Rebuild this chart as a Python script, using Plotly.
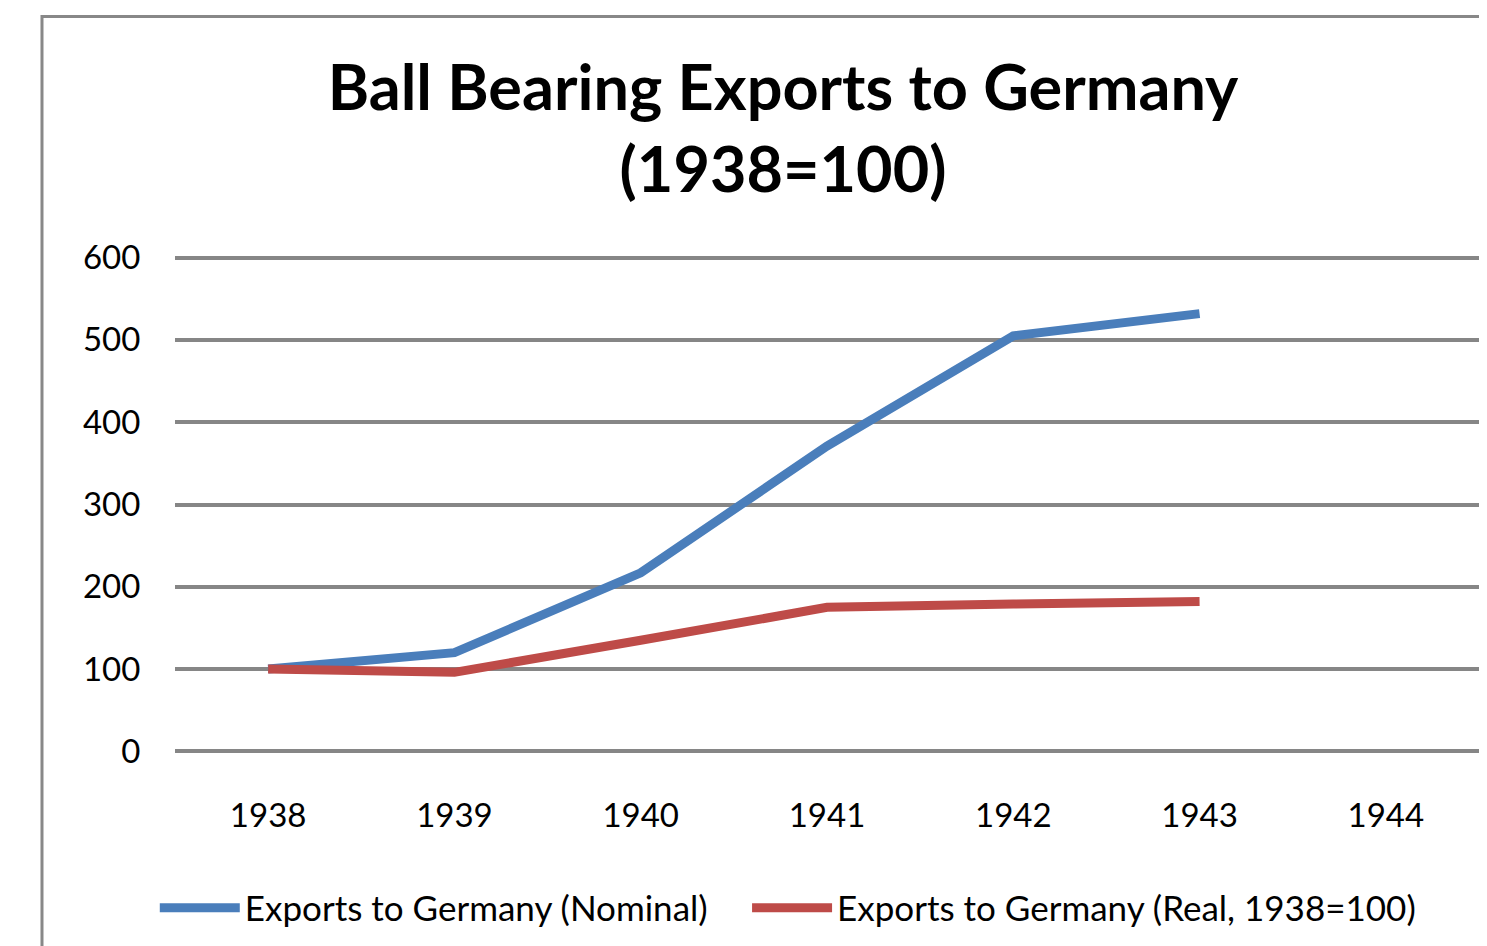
import plotly.graph_objects as go

# data (index, 1938 = 100); 1944 is an empty category
years = ["1938", "1939", "1940", "1941", "1942", "1943", "1944"]
nominal = [100, 120, 217, 371, 505, 532, None]
real = [100, 96, 135, 175, 179, 182, None]

BLUE = "#4A7EBB"
RED = "#BE4B48"
GRID = "#868686"
FONT = "Lato"
CLEAR = "rgba(0,0,0,0)"

fig = go.Figure()
fig.add_trace(go.Scatter(
    x=years, y=nominal, mode="lines", name="Exports to Germany (Nominal)",
    line=dict(color=BLUE, width=9), connectgaps=False, legend="legend",
))
fig.add_trace(go.Scatter(
    x=years, y=real, mode="lines", name="Exports to Germany (Real, 1938=100)",
    line=dict(color=RED, width=9), connectgaps=False, legend="legend2",
))

# outer chart-area frame (cut by the picture on the right and bottom)
fig.add_shape(type="rect", xref="paper", yref="paper",
              x0=-0.102, x1=1.2, y0=-0.6, y1=1.482,
              line=dict(color="#888888", width=3), layer="below")

legend_style = dict(
    orientation="h", xanchor="left", y=-0.312, yanchor="middle",
    font=dict(size=35, family=FONT), itemwidth=80, bgcolor=CLEAR,
)

fig.update_layout(
    width=1487, height=946,
    paper_bgcolor="white", plot_bgcolor="white",
    margin=dict(l=167, r=16, t=248, b=201),
    font=dict(family=FONT, color="black"),
    title=dict(
        text="<b>Ball Bearing Exports to Germany<br>(1938=100)</b>",
        x=0.5212, xanchor="center", y=0.892, yanchor="middle",
        font=dict(size=63, family=FONT, color="black"),
    ),
    showlegend=True,
    legend=dict(x=-0.0155, **legend_style),
    legend2=dict(x=0.4387, **legend_style),
    xaxis=dict(
        type="category", range=[-0.5, 6.5], showgrid=False, zeroline=False,
        showline=False, ticks="outside", ticklen=33, tickcolor=CLEAR,
        tickfont=dict(size=33),
    ),
    yaxis=dict(
        range=[-2, 602], tickvals=[0, 100, 200, 300, 400, 500, 600],
        showgrid=True, gridcolor=GRID, gridwidth=4,
        zeroline=False, showline=False, ticks="outside", ticklen=27,
        tickcolor=CLEAR, tickfont=dict(size=33),
    ),
)

fig.write_html("out.html")
